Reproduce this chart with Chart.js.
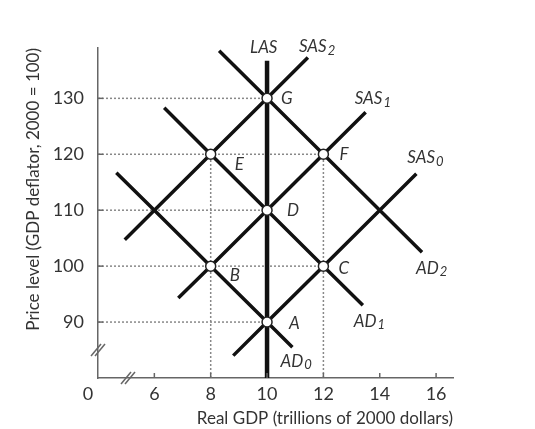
<!DOCTYPE html>
<html>
<head>
<meta charset="utf-8">
<script src="https://cdn.jsdelivr.net/npm/chart.js@4.4.0/dist/chart.umd.min.js"></script>
<style>
  body { margin: 0; background: #fff; }
  #wrap { width: 535px; height: 429px; }
</style>
</head>
<body>
<div id="wrap"><canvas id="myChart" width="535" height="429"></canvas></div>
<script>
// tick labels
const xTicks = [6, 8, 10, 12, 14, 16];
const yTicks = [90, 100, 110, 120, 130];

// aggregate demand curves
const ad0X = [4.65, 6, 8, 10, 10.9];
const ad0Y = [116.7, 110, 100, 90, 85.5];
const ad1X = [6.35, 8, 10, 12, 13.4];
const ad1Y = [128.3, 120, 110, 100, 93];
const ad2X = [8.3, 10, 12, 14, 15.5];
const ad2Y = [138.5, 130, 120, 110, 102.5];

// short-run aggregate supply curves
const sas0X = [8.8, 10, 12, 14, 15.3];
const sas0Y = [84, 90, 100, 110, 116.5];
const sas1X = [6.85, 8, 10, 12, 13.5];
const sas1Y = [94.3, 100, 110, 120, 127.5];
const sas2X = [4.95, 6, 8, 10, 11.45];
const sas2Y = [104.7, 110, 120, 130, 137.3];

// long-run aggregate supply
const lasX = [10, 10];
const lasY = [80, 136.7];

// equilibrium points
const eqLabels = ['A', 'B', 'C', 'D', 'E', 'F', 'G'];
const eqX = [10, 8, 12, 10, 8, 12, 10];
const eqY = [90, 100, 100, 110, 120, 120, 130];

// dotted guide lines
const hGuideY = [130, 120, 110, 100, 90];
const hGuideToX = [10, 12, 10, 12, 10];
const vGuideX = [8, 12];
const vGuideFromY = [120, 120];

const pts = (xs, ys) => xs.map((x, i) => ({ x: x, y: ys[i] }));

const curve = (name, xs, ys, w) => ({
  label: name,
  data: pts(xs, ys),
  showLine: true,
  borderColor: '#111',
  borderWidth: w || 3.5,
  pointRadius: 0,
  order: 1
});

const datasets = [{
  label: 'points',
  data: pts(eqX, eqY),
  pointRadius: 5,
  pointBackgroundColor: '#fff',
  pointBorderColor: '#222',
  pointBorderWidth: 1.5,
  showLine: false,
  order: 0
}];

datasets.push(curve('LAS', lasX, lasY, 4.5));
datasets.push(curve('AD0', ad0X, ad0Y));
datasets.push(curve('AD1', ad1X, ad1Y));
datasets.push(curve('AD2', ad2X, ad2Y));
datasets.push(curve('SAS0', sas0X, sas0Y));
datasets.push(curve('SAS1', sas1X, sas1Y));
datasets.push(curve('SAS2', sas2X, sas2Y));

hGuideY.forEach((y, i) => {
  datasets.push({
    label: 'h' + y,
    data: [{ x: 4, y: y }, { x: hGuideToX[i], y: y }],
    showLine: true,
    borderColor: '#888',
    borderWidth: 1.5,
    borderDash: [2, 2],
    pointRadius: 0,
    order: 2
  });
});
vGuideX.forEach((x, i) => {
  datasets.push({
    label: 'v' + x,
    data: [{ x: x, y: 80 }, { x: x, y: vGuideFromY[i] }],
    showLine: true,
    borderColor: '#888',
    borderWidth: 1.5,
    borderDash: [2, 2],
    pointRadius: 0,
    order: 2
  });
});

// label offsets in pixels from the point / curve end
const eqOffsets = {
  A: [22, 1], B: [19, 9], C: [15, 2], D: [20, 0], E: [24, 10], F: [16, 0], G: [14, 0]
};
const curveLabels = [
  { main: 'LAS', sub: '', xs: lasX, ys: lasY, dx: -17, dy: -13 },
  { main: 'SAS', sub: '2', xs: sas2X, ys: sas2Y, dx: -9, dy: -11 },
  { main: 'SAS', sub: '1', xs: sas1X, ys: sas1Y, dx: -11, dy: -14 },
  { main: 'SAS', sub: '0', xs: sas0X, ys: sas0Y, dx: -9, dy: -16 },
  { main: 'AD', sub: '2', xs: ad2X, ys: ad2Y, dx: -6, dy: 16 },
  { main: 'AD', sub: '1', xs: ad1X, ys: ad1Y, dx: -9, dy: 16 },
  { main: 'AD', sub: '0', xs: ad0X, ys: ad0Y, dx: -12, dy: 14 }
];

const overlay = {
  id: 'overlay',
  afterDraw(chart) {
    const ctx = chart.ctx;
    const xs = chart.scales.x, ys = chart.scales.y;
    const a = chart.chartArea;
    ctx.save();
    // inward tick marks
    ctx.strokeStyle = '#666';
    ctx.lineWidth = 1.5;
    xTicks.forEach(v => {
      const px = xs.getPixelForValue(v);
      ctx.beginPath(); ctx.moveTo(px, a.bottom); ctx.lineTo(px, a.bottom - 5); ctx.stroke();
    });
    yTicks.forEach(v => {
      const py = ys.getPixelForValue(v);
      ctx.beginPath(); ctx.moveTo(a.left, py); ctx.lineTo(a.left + 5, py); ctx.stroke();
    });
    // axis breaks
    const brk = (cx, cy) => {
      for (let k = -2; k <= 2; k += 4) {
        ctx.beginPath();
        ctx.moveTo(cx - 5 + k, cy + 6);
        ctx.lineTo(cx + 5 + k, cy - 6);
        ctx.stroke();
      }
    };
    brk(a.left, a.bottom - 28);
    brk(a.left + 30, a.bottom);
    // zero label at the origin
    ctx.fillStyle = '#333';
    ctx.font = '18px Lato';
    ctx.textAlign = 'center';
    ctx.textBaseline = 'middle';
    ctx.fillText('0', a.left - 10, a.bottom + 16);
    // point labels
    ctx.font = 'italic 17px Lato';
    ctx.textAlign = 'left';
    eqLabels.forEach((l, i) => {
      const o = eqOffsets[l];
      ctx.fillText(l, xs.getPixelForValue(eqX[i]) + o[0], ys.getPixelForValue(eqY[i]) + o[1]);
    });
    // curve labels with subscripts
    curveLabels.forEach(c => {
      const n = c.xs.length - 1;
      const px = xs.getPixelForValue(c.xs[n]) + c.dx;
      const py = ys.getPixelForValue(c.ys[n]) + c.dy;
      ctx.font = 'italic 17px Lato';
      ctx.fillText(c.main, px, py);
      if (c.sub) {
        const w = ctx.measureText(c.main).width;
        ctx.font = 'italic 13px Lato';
        ctx.fillText(c.sub, px + w + 1, py + 4);
      }
    });
    ctx.restore();
  }
};

const config = {
  type: 'scatter',
  data: { datasets: datasets },
  options: {
    responsive: false,
    animation: false,
    layout: { padding: { left: 0, right: 82, top: 48, bottom: 0 } },
    plugins: { legend: { display: false }, tooltip: { enabled: false } },
    scales: {
      x: {
        type: 'linear',
        min: 4,
        max: 16.6,
        afterBuildTicks: s => { s.ticks = xTicks.map(v => ({ value: v })); },
        afterFit: s => { s.height = 51; },
        grid: { display: false, drawTicks: false },
        border: { display: true, color: '#666', width: 1.5 },
        ticks: { color: '#333', font: { family: 'Lato', size: 18 }, padding: 5, maxRotation: 0 },
        title: {
          display: true,
          text: 'Real GDP (trillions of 2000 dollars)',
          align: 'end',
          color: '#333',
          font: { family: 'Lato', size: 17 },
          padding: { top: 0, bottom: 0 }
        }
      },
      y: {
        type: 'linear',
        min: 80,
        max: 139,
        afterBuildTicks: s => { s.ticks = yTicks.map(v => ({ value: v })); },
        afterFit: s => { s.width = 98; },
        grid: { display: false, drawTicks: false },
        border: { display: true, color: '#666', width: 1.5 },
        ticks: { color: '#333', font: { family: 'Lato', size: 18 }, padding: 14 },
        title: {
          display: true,
          text: 'Price level (GDP deflator, 2000 = 100)',
          align: 'end',
          color: '#333',
          font: { family: 'Lato', size: 17 },
          padding: { top: 23, bottom: 0 }
        }
      }
    }
  },
  plugins: [overlay]
};

const myChart = new Chart(document.getElementById('myChart'), config);
</script>
</body>
</html>
